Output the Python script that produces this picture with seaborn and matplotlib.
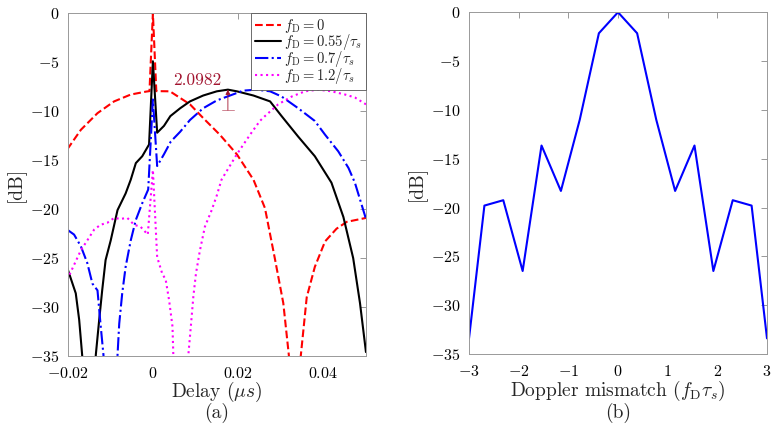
import numpy as np
import matplotlib
matplotlib.use("Agg")
import matplotlib.pyplot as plt
import seaborn as sns
from matplotlib.ticker import FuncFormatter

# (a) ambiguity cut vs delay, one curve per Doppler shift
delay_f0 = [-0.0201, -0.0169, -0.0130, -0.0091, -0.0052, -0.0016, -0.0008, 0.0, 0.0008,
            0.0040, 0.0087, 0.0118, 0.0157, 0.0197, 0.0236, 0.0263, 0.0286, 0.0306,
            0.0319, 0.0326, 0.0340, 0.0347, 0.0361, 0.0380, 0.0404, 0.0431, 0.0455, 0.0500]
db_f0 = [-13.9, -11.9, -10.2, -9.0, -8.3, -8.0, -7.95, 0.0, -7.95,
         -7.97, -9.3, -10.7, -12.4, -14.4, -17.0, -19.9, -25.0, -29.6,
         -34.9, -42.0, -42.0, -35.0, -29.0, -25.9, -23.3, -22.0, -21.3, -20.9]

delay_f055 = [-0.0201, -0.0181, -0.0173, -0.0166, -0.0160, -0.0140, -0.0134, -0.0126,
              -0.0119, -0.0111, -0.0099, -0.0083, -0.0064, -0.0052, -0.0040, -0.0025,
              -0.0009, 0.0, 0.0010, 0.0026, 0.0041, 0.0064, 0.0087, 0.0118, 0.0150,
              0.0176, 0.0197, 0.0236, 0.0275, 0.0302, 0.0341, 0.0380, 0.0419, 0.0447,
              0.0470, 0.0486, 0.0500]
db_f055 = [-26.0, -28.6, -31.3, -34.9, -42.0, -42.0, -34.9, -31.3,
           -28.3, -25.2, -23.2, -20.1, -18.4, -17.0, -15.3, -14.6,
           -13.4, -4.9, -12.2, -11.5, -10.5, -9.7, -9.0, -8.4, -7.97,
           -7.8, -7.97, -8.4, -9.0, -10.5, -12.6, -14.6, -17.3, -20.8,
           -25.0, -29.6, -34.6]

delay_f07 = [-0.0201, -0.0185, -0.0169, -0.0154, -0.0142, -0.0130, -0.0123, -0.0116,
             -0.0110, -0.0089, -0.0083, -0.0079, -0.0072, -0.0064, -0.0052, -0.0040,
             -0.0025, -0.0011, 0.0, 0.0010, 0.0026, 0.0042, 0.0064, 0.0087, 0.0118,
             0.0150, 0.0181, 0.0212, 0.0243, 0.0275, 0.0302, 0.0341, 0.0380, 0.0404,
             0.0435, 0.0459, 0.0474, 0.0500]
db_f07 = [-22.1, -22.6, -23.8, -25.5, -27.6, -28.3, -31.7, -34.9,
          -42.0, -42.0, -34.9, -31.7, -28.6, -25.9, -23.2, -21.1,
          -19.4, -18.0, -8.8, -15.6, -14.4, -13.1, -12.1, -10.9, -9.7,
          -8.9, -8.4, -7.9, -7.8, -7.97, -8.5, -9.7, -11.0, -12.4,
          -14.1, -15.8, -17.3, -21.0]

delay_f12 = [-0.0201, -0.0185, -0.0169, -0.0154, -0.0138, -0.0123, -0.0107, -0.0091,
             -0.0076, -0.0060, -0.0044, -0.0029, -0.0012, 0.0, 0.0010, 0.0022, 0.0030,
             0.0038, 0.0046, 0.0048, 0.0053, 0.0078, 0.0083, 0.0089, 0.0095, 0.0101,
             0.0110, 0.0122, 0.0138, 0.0150, 0.0161, 0.0197, 0.0228, 0.0251, 0.0263,
             0.0294, 0.0326, 0.0357, 0.0388, 0.0419, 0.0451, 0.0474, 0.0500]
db_f12 = [-27.2, -25.7, -24.2, -23.2, -22.1, -21.6, -21.4, -20.9,
          -21.0, -20.9, -21.6, -21.8, -22.6, -16.0, -24.9, -26.6, -27.2,
          -29.3, -32.0, -35.0, -42.0, -42.0, -35.0, -32.0, -28.9, -26.6,
          -24.3, -21.8, -20.1, -18.6, -17.0, -14.4, -12.4, -11.0, -10.5,
          -9.3, -8.5, -7.97, -7.8, -7.97, -8.3, -8.6, -9.3]

# (b) peak level vs Doppler mismatch
doppler = [-3.0, -2.69, -2.31, -1.92, -1.54, -1.15, -0.77, -0.385, 0.0,
           0.385, 0.77, 1.15, 1.54, 1.92, 2.31, 2.69, 3.0]
peak_db = [-33.4, -19.8, -19.25, -26.5, -13.65, -18.3, -11.0, -2.15, 0.0,
           -2.15, -11.0, -18.3, -13.65, -26.5, -19.25, -19.8, -33.4]

gap_value = 2.0982
dark_red = "#A2142F"

sns.set_theme(style="white")
plt.rcParams["font.family"] = "serif"
plt.rcParams["font.serif"] = ["cmr10"]
plt.rcParams["mathtext.fontset"] = "cm"
plt.rcParams["axes.formatter.use_mathtext"] = True

fig = plt.figure(figsize=(7.76, 4.24), dpi=100)
ax1 = fig.add_axes([0.0872, 0.1604, 0.3844, 0.8083])
ax2 = fig.add_axes([0.6044, 0.1651, 0.384, 0.806])

curves = [
    (delay_f0, db_f0, "red", "--", r"$f_{\mathrm{D}} = 0$"),
    (delay_f055, db_f055, "black", "-", r"$f_{\mathrm{D}} = 0.55/\tau_s$"),
    (delay_f07, db_f07, "blue", "-.", r"$f_{\mathrm{D}} = 0.7/\tau_s$"),
    (delay_f12, db_f12, "magenta", ":", r"$f_{\mathrm{D}} = 1.2/\tau_s$"),
]
for xs, ys, col, ls, lab in curves:
    sns.lineplot(x=xs, y=ys, ax=ax1, color=col, linestyle=ls, linewidth=1.5,
                 label=lab, sort=False, estimator=None)

# datatip arrow on the main lobe of the 0.55/tau_s curve
bx = np.array(delay_f055)
by = np.array(db_f055)
lobe = bx > 0.005
px = bx[lobe][np.argmax(by[lobe])]
py = by[lobe].max()
ax1.annotate("", xy=(px, py), xytext=(px, py - gap_value),
             arrowprops=dict(arrowstyle="-|>", color=dark_red, lw=0.6,
                             mutation_scale=7, shrinkA=0, shrinkB=0))
ax1.plot([px - 0.00137, px + 0.00137], [py - gap_value, py - gap_value],
         color=dark_red, lw=0.6, alpha=0.6)
ax1.text(px - 0.0072, py + 0.9, f"{gap_value:.4f}", color=dark_red,
         fontsize=12.5, ha="center", va="center")

ax1.set_xlim(-0.02, 0.05)
ax1.set_ylim(-35, 0)
ax1.set_xticks([-0.02, 0, 0.02, 0.04])
ax1.set_yticks(np.arange(-35, 1, 5))
ax1.set_xlabel(r"Delay ($\mu s$)", fontsize=14)
ax1.xaxis.label.set_va("center")
ax1.xaxis.set_label_coords(0.5, -0.104)
ax1.set_ylabel("[dB]", fontsize=14, labelpad=3)
ax1.text(0.5, -0.167, "(a)", transform=ax1.transAxes, ha="center", va="center", fontsize=14)

leg = ax1.legend(loc="upper right", bbox_to_anchor=(1, 1), borderaxespad=0,
                 fontsize=10.5, handlelength=1.8, handletextpad=0.2,
                 labelspacing=-0.2, borderpad=0.25, fancybox=False, framealpha=1)
leg.get_frame().set_edgecolor("#555555")
leg.get_frame().set_linewidth(0.6)

sns.lineplot(x=doppler, y=peak_db, ax=ax2, color="blue", linewidth=1.5,
             sort=False, estimator=None)
ax2.set_xlim(-3, 3)
ax2.set_ylim(-35, 0)
ax2.set_xticks(np.arange(-3, 4, 1))
ax2.set_yticks(np.arange(-35, 1, 5))
ax2.set_xlabel(r"Doppler mismatch ($f_{\mathrm{D}}\tau_s$)", fontsize=14)
ax2.xaxis.label.set_va("center")
ax2.xaxis.set_label_coords(0.5, -0.109)
ax2.set_ylabel("[dB]", fontsize=14, labelpad=3)
ax2.text(0.5, -0.172, "(b)", transform=ax2.transAxes, ha="center", va="center", fontsize=14)

fmt = FuncFormatter(lambda v, p: "$%s$" % ("0" if abs(v) < 1e-12 else f"{v:g}"))
for ax in (ax1, ax2):
    ax.xaxis.set_major_formatter(fmt)
    ax.yaxis.set_major_formatter(fmt)
    ax.tick_params(direction="in", top=True, right=True, length=4, width=0.6,
                   color="#888888", labelcolor="black", labelsize=11.5, pad=6)
    ax.tick_params(axis="x", pad=7)
    for s in ax.spines.values():
        s.set_color("#999999")
        s.set_linewidth(0.7)

fig.savefig("out.png", dpi=100)
